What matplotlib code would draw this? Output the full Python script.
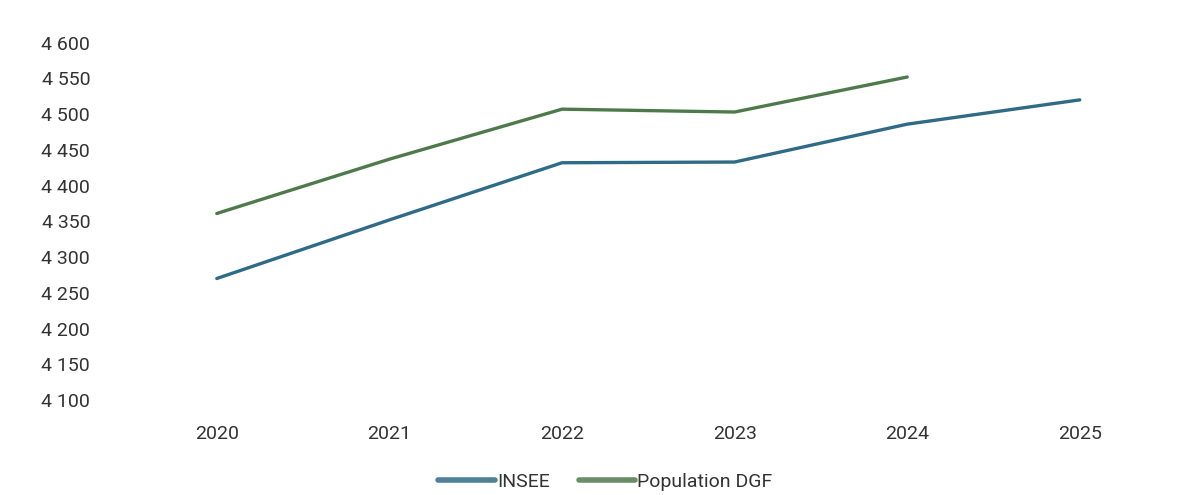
import matplotlib.pyplot as plt
from matplotlib.ticker import FuncFormatter, MultipleLocator

plt.rcParams['font.family'] = ['Roboto', 'DejaVu Sans']

# données
annees = ['2020', '2021', '2022', '2023', '2024', '2025']
insee = [4270, 4352, 4432, 4433, 4486, 4520]
dgf = [4361, 4437, 4507, 4503, 4552]

fig = plt.figure(figsize=(11.94, 4.95), dpi=100)
ax = fig.add_axes([0.1093, 0.192, 0.8673, 0.7217])

x = list(range(len(annees)))
ax.plot(x, insee, color='#2F6A86', lw=2.4, label='INSEE', solid_capstyle='round')
ax.plot(x[:len(dgf)], dgf, color='#4E7A4B', lw=2.4, label='Population DGF', solid_capstyle='round')

ax.set_xlim(-0.5, len(annees) - 0.5)
ax.set_ylim(4100, 4600)
ax.set_xticks(x)
ax.set_xticklabels(annees)
ax.yaxis.set_major_locator(MultipleLocator(50))
ax.yaxis.set_major_formatter(FuncFormatter(lambda v, p: f'{int(v):,}'.replace(',', ' ')))

ax.tick_params(axis='y', length=0, pad=29, labelsize=14, labelcolor='#333333')
ax.tick_params(axis='x', length=0, pad=18, labelsize=14, labelcolor='#333333')
for s in ax.spines.values():
    s.set_visible(False)

leg = fig.legend(loc='center', bbox_to_anchor=(0.507, 0.026), ncol=2, frameon=False,
                 fontsize=14, handlelength=2.9, handletextpad=0.1, columnspacing=1.5)
for t in leg.get_texts():
    t.set_color('#333333')
for h in leg.get_lines():
    h.set_linewidth(4)
    h.set_alpha(0.85)

fig.savefig('out.png', dpi=100)
